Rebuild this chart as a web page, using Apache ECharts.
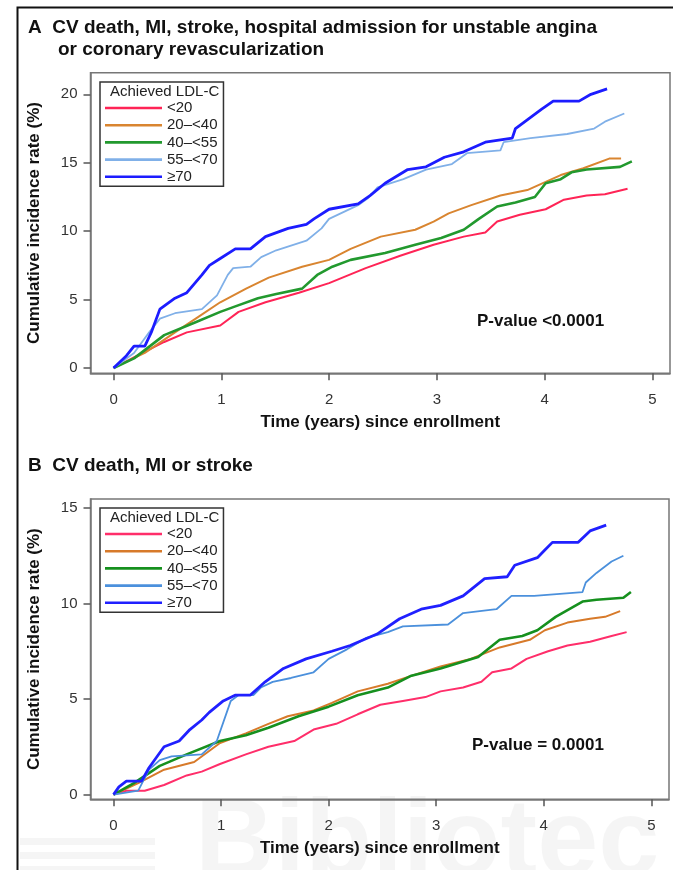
<!DOCTYPE html>
<html>
<head>
<meta charset="utf-8">
<title>Cumulative incidence by achieved LDL-C</title>
<script src="https://cdn.jsdelivr.net/npm/echarts@6/dist/echarts.min.js"></script>
<style>
  html, body { margin: 0; padding: 0; background: #fff; }
  #chart { width: 673px; height: 870px; }
</style>
</head>
<body>
<div id="chart"></div>
<script>
// group labels
const groups = ['<20', '20–<40', '40–<55', '55–<70', '≥70']

// panel A: CV death, MI, stroke, UA admission or revascularization
const tA_lt20 = [0, 0.22, 0.47, 0.68, 0.99, 1.16, 1.41, 1.72, 2.0, 2.34, 2.66, 2.97, 3.25, 3.45, 3.56, 3.77, 4.01, 4.18, 4.39, 4.56, 4.77]
const vA_lt20 = [0, 0.9, 1.9, 2.6, 3.1, 4.1, 4.8, 5.5, 6.2, 7.3, 8.2, 9.0, 9.6, 9.9, 10.7, 11.2, 11.6, 12.3, 12.6, 12.7, 13.1]

const tA_20 = [0, 0.29, 0.57, 0.78, 0.99, 1.23, 1.44, 1.75, 2.0, 2.2, 2.48, 2.8, 2.97, 3.11, 3.32, 3.59, 3.84, 4.01, 4.15, 4.36, 4.6, 4.71]
const vA_20 = [0, 1.1, 2.6, 3.7, 4.8, 5.8, 6.6, 7.4, 7.9, 8.7, 9.6, 10.1, 10.7, 11.3, 11.9, 12.6, 13.0, 13.6, 14.1, 14.6, 15.3, 15.3]

const tA_40 = [0, 0.19, 0.47, 0.75, 0.99, 1.13, 1.34, 1.51, 1.75, 1.89, 2.03, 2.2, 2.52, 2.8, 3.04, 3.25, 3.39, 3.56, 3.73, 3.91, 4.01, 4.15, 4.25, 4.39, 4.7, 4.81]
const vA_40 = [0, 0.7, 2.4, 3.3, 4.1, 4.5, 5.1, 5.4, 5.8, 6.8, 7.4, 7.9, 8.4, 9.0, 9.5, 10.1, 10.9, 11.8, 12.1, 12.5, 13.5, 13.8, 14.3, 14.5, 14.7, 15.1]

const tA_55 = [0, 0.19, 0.33, 0.43, 0.57, 0.82, 0.96, 1.06, 1.11, 1.27, 1.37, 1.51, 1.79, 1.93, 2.0, 2.27, 2.36, 2.45, 2.69, 2.9, 3.14, 3.28, 3.59, 3.62, 3.87, 4.21, 4.46, 4.56, 4.74]
const vA_55 = [0, 1.1, 2.6, 3.6, 4.0, 4.3, 5.3, 6.8, 7.3, 7.4, 8.1, 8.6, 9.3, 10.2, 10.9, 11.9, 12.4, 13.2, 13.8, 14.5, 14.9, 15.7, 15.9, 16.5, 16.8, 17.1, 17.5, 18.0, 18.6]

const tA_70 = [0, 0.12, 0.19, 0.29, 0.35, 0.43, 0.57, 0.68, 0.82, 0.89, 0.99, 1.13, 1.27, 1.41, 1.62, 1.79, 1.86, 2.0, 2.27, 2.38, 2.52, 2.73, 2.9, 3.07, 3.25, 3.45, 3.7, 3.73, 3.97, 4.08, 4.32, 4.43, 4.58]
const vA_70 = [0, 0.9, 1.6, 1.6, 2.6, 4.3, 5.1, 5.5, 6.8, 7.5, 8.0, 8.7, 8.7, 9.6, 10.2, 10.5, 10.9, 11.6, 12.0, 12.6, 13.5, 14.5, 14.7, 15.4, 15.8, 16.5, 16.8, 17.5, 18.9, 19.5, 19.5, 20.0, 20.4]

// panel B: CV death, MI or stroke
const tB_lt20 = [0, 0.12, 0.29, 0.47, 0.68, 0.82, 0.99, 1.23, 1.44, 1.68, 1.86, 2.07, 2.27, 2.48, 2.69, 2.9, 3.04, 3.25, 3.42, 3.52, 3.7, 3.84, 4.04, 4.22, 4.43, 4.63, 4.77]
const vB_lt20 = [0, 0.2, 0.2, 0.5, 1.0, 1.2, 1.6, 2.1, 2.5, 2.8, 3.4, 3.7, 4.2, 4.7, 4.9, 5.1, 5.4, 5.6, 5.9, 6.4, 6.6, 7.1, 7.5, 7.8, 8.0, 8.3, 8.5]

const tB_20 = [0, 0.23, 0.47, 0.75, 0.99, 1.23, 1.44, 1.62, 1.86, 2.03, 2.27, 2.55, 2.76, 3.04, 3.32, 3.59, 3.87, 4.01, 4.22, 4.43, 4.57, 4.71]
const vB_20 = [0, 0.6, 1.3, 1.7, 2.7, 3.2, 3.7, 4.1, 4.4, 4.8, 5.4, 5.8, 6.2, 6.7, 7.1, 7.7, 8.1, 8.6, 9.0, 9.2, 9.3, 9.6]

const tB_40 = [0, 0.19, 0.43, 0.68, 0.99, 1.23, 1.44, 1.72, 2.0, 2.27, 2.55, 2.76, 3.04, 3.39, 3.59, 3.8, 3.94, 4.11, 4.36, 4.49, 4.74, 4.81]
const vB_40 = [0, 0.6, 1.5, 2.1, 2.8, 3.1, 3.5, 4.1, 4.6, 5.2, 5.6, 6.2, 6.6, 7.2, 8.1, 8.3, 8.6, 9.3, 10.1, 10.2, 10.3, 10.6]

const tB_55 = [0, 0.23, 0.33, 0.43, 0.54, 0.82, 0.96, 1.09, 1.16, 1.3, 1.37, 1.48, 1.65, 1.86, 2.0, 2.17, 2.35, 2.55, 2.69, 3.11, 3.25, 3.56, 3.7, 3.91, 4.36, 4.39, 4.49, 4.63, 4.74]
const vB_55 = [0, 0.2, 1.3, 1.8, 2.0, 2.1, 2.8, 4.9, 5.2, 5.2, 5.6, 5.9, 6.1, 6.4, 7.1, 7.6, 8.2, 8.5, 8.8, 8.9, 9.5, 9.7, 10.4, 10.4, 10.6, 11.1, 11.6, 12.2, 12.5]

const tB_70 = [0, 0.05, 0.12, 0.26, 0.33, 0.47, 0.61, 0.71, 0.82, 0.89, 1.02, 1.13, 1.27, 1.41, 1.58, 1.79, 2.03, 2.2, 2.45, 2.66, 2.86, 3.04, 3.25, 3.45, 3.66, 3.73, 3.94, 4.01, 4.08, 4.32, 4.43, 4.58]
const vB_70 = [0, 0.4, 0.7, 0.7, 1.4, 2.5, 2.8, 3.4, 3.9, 4.3, 4.9, 5.2, 5.2, 5.9, 6.6, 7.1, 7.5, 7.8, 8.4, 9.2, 9.7, 9.9, 10.4, 11.3, 11.4, 12.0, 12.4, 12.8, 13.2, 13.2, 13.8, 14.1]

const xTicks = [0, 1, 2, 3, 4, 5]
const yTicksA = [0, 5, 10, 15, 20]
const yTicksB = [0, 5, 10, 15]

const colorsA = ['#ff2456', '#d98530', '#22992e', '#80b0e8', '#1c1cff']
const colorsB = ['#ff2e6a', '#d77a2a', '#16901e', '#4b90dc', '#2020ff']
const widths = [2, 2, 2.6, 1.8, 2.8]

const FONT = "'Liberation Sans', Arial, sans-serif"

const zip = (t, v) => t.map((x, i) => [x, v[i]])
const curvesA = [zip(tA_lt20, vA_lt20), zip(tA_20, vA_20), zip(tA_40, vA_40), zip(tA_55, vA_55), zip(tA_70, vA_70)]
const curvesB = [zip(tB_lt20, vB_lt20), zip(tB_20, vB_20), zip(tB_40, vB_40), zip(tB_55, vB_55), zip(tB_70, vB_70)]

const makeX = (idx) => ({
  type: 'value', gridIndex: idx,
  min: -0.214, max: 5.164,
  name: 'Time (years) since enrollment',
  nameLocation: 'middle', nameGap: 41,
  nameTextStyle: { fontFamily: FONT, fontSize: 17, fontWeight: 'bold', color: '#111' },
  axisLine: { show: true, onZero: false, lineStyle: { color: '#777', width: 1.5 } },
  axisTick: { show: true, customValues: xTicks, length: 7, lineStyle: { color: '#555', width: 1.5 } },
  axisLabel: { customValues: xTicks, margin: 19, fontFamily: FONT, fontSize: 15, color: '#333' },
  splitLine: { show: false }
})

const makeY = (idx, min, max, ticks) => ({
  type: 'value', gridIndex: idx,
  min: min, max: max,
  name: 'Cumulative incidence rate (%)',
  nameLocation: 'middle', nameGap: 48,
  nameTextStyle: { fontFamily: FONT, fontSize: 17, fontWeight: 'bold', color: '#111' },
  axisLine: { show: true, onZero: false, lineStyle: { color: '#777', width: 1.5 } },
  axisTick: { show: true, customValues: ticks, length: 7, lineStyle: { color: '#555', width: 1.5 } },
  axisLabel: { customValues: ticks, margin: 13, fontFamily: FONT, fontSize: 15, color: '#333' },
  splitLine: { show: false }
})

const makeLegend = (top, colors, suffix) => ({
  orient: 'vertical', left: 100, top: top,
  data: groups.map((g, i) => ({ name: g + suffix, itemStyle: { color: colors[i] } })),
  formatter: (n) => n.replace(suffix, ''),
  icon: 'rect', itemWidth: 57, itemHeight: 2.6,
  itemGap: 2.2, itemTextGap: 11,
  padding: [18.5, 6, 2, 5],
  borderColor: '#333', borderWidth: 1.5,
  textStyle: { fontFamily: FONT, fontSize: 15, lineHeight: 15, color: '#222' },
  selectedMode: false
})

const series = []
curvesA.forEach((d, i) => series.push({
  name: groups[i], type: 'line', xAxisIndex: 0, yAxisIndex: 0,
  data: d, showSymbol: false, smooth: false,
  lineStyle: { color: colorsA[i], width: widths[i] }, z: 3 + i
}))
curvesB.forEach((d, i) => series.push({
  name: groups[i] + ' ', type: 'line', xAxisIndex: 1, yAxisIndex: 1,
  data: d, showSymbol: false, smooth: false,
  lineStyle: { color: colorsB[i], width: widths[i] }, z: 3 + i
}))

const chart = echarts.init(document.getElementById('chart'), null, { renderer: 'canvas' })
chart.setOption({
  animation: false,
  backgroundColor: '#fff',
  textStyle: { fontFamily: FONT },
  grid: [
    { left: 90.5, top: 72.7, width: 579.5, height: 300.6, show: true, borderColor: '#777', borderWidth: 1.5, containLabel: false },
    { left: 90.5, top: 499, width: 578.5, height: 300.3, show: true, borderColor: '#777', borderWidth: 1.5, containLabel: false }
  ],
  xAxis: [makeX(0), makeX(1)],
  yAxis: [makeY(0, -0.39, 21.58, yTicksA), makeY(1, -0.25, 15.47, yTicksB)],
  legend: [makeLegend(82, colorsA, ''), makeLegend(508, colorsB, ' ')],
  series: series,
  graphic: [
    // watermark behind the chart
    { type: 'text', left: 195, top: 790, z: -10, silent: true,
      style: { text: 'Bibliotec', font: 'bold 110px ' + FONT, fill: 'rgba(0,0,0,0.04)' } },
    { type: 'rect', shape: { x: 20, y: 838, width: 135, height: 7 }, z: -10, style: { fill: 'rgba(0,0,0,0.04)' } },
    { type: 'rect', shape: { x: 20, y: 852, width: 135, height: 7 }, z: -10, style: { fill: 'rgba(0,0,0,0.04)' } },
    { type: 'rect', shape: { x: 20, y: 866, width: 135, height: 7 }, z: -10, style: { fill: 'rgba(0,0,0,0.04)' } },
    // outer figure frame
    { type: 'rect', shape: { x: 17.5, y: 7.5, width: 720, height: 900 }, z: 1, silent: true,
      style: { fill: 'none', stroke: '#111', lineWidth: 2 } },
    // panel titles
    { type: 'text', left: 28, top: 18, style: { text: 'A  CV death, MI, stroke, hospital admission for unstable angina', font: 'bold 19px ' + FONT, fill: '#111' } },
    { type: 'text', left: 58, top: 40, style: { text: 'or coronary revascularization', font: 'bold 19px ' + FONT, fill: '#111' } },
    { type: 'text', left: 28, top: 456, style: { text: 'B  CV death, MI or stroke', font: 'bold 19px ' + FONT, fill: '#111' } },
    // legend headings
    { type: 'text', left: 110, top: 84, z: 10, style: { text: 'Achieved LDL-C', font: '15px ' + FONT, fill: '#222' } },
    { type: 'text', left: 110, top: 510, z: 10, style: { text: 'Achieved LDL-C', font: '15px ' + FONT, fill: '#222' } },
    // p-values
    { type: 'text', left: 477, top: 313, style: { text: 'P-value <0.0001', font: 'bold 17px ' + FONT, fill: '#111' } },
    { type: 'text', left: 472, top: 737, style: { text: 'P-value = 0.0001', font: 'bold 17px ' + FONT, fill: '#111' } }
  ]
})
</script>
</body>
</html>
